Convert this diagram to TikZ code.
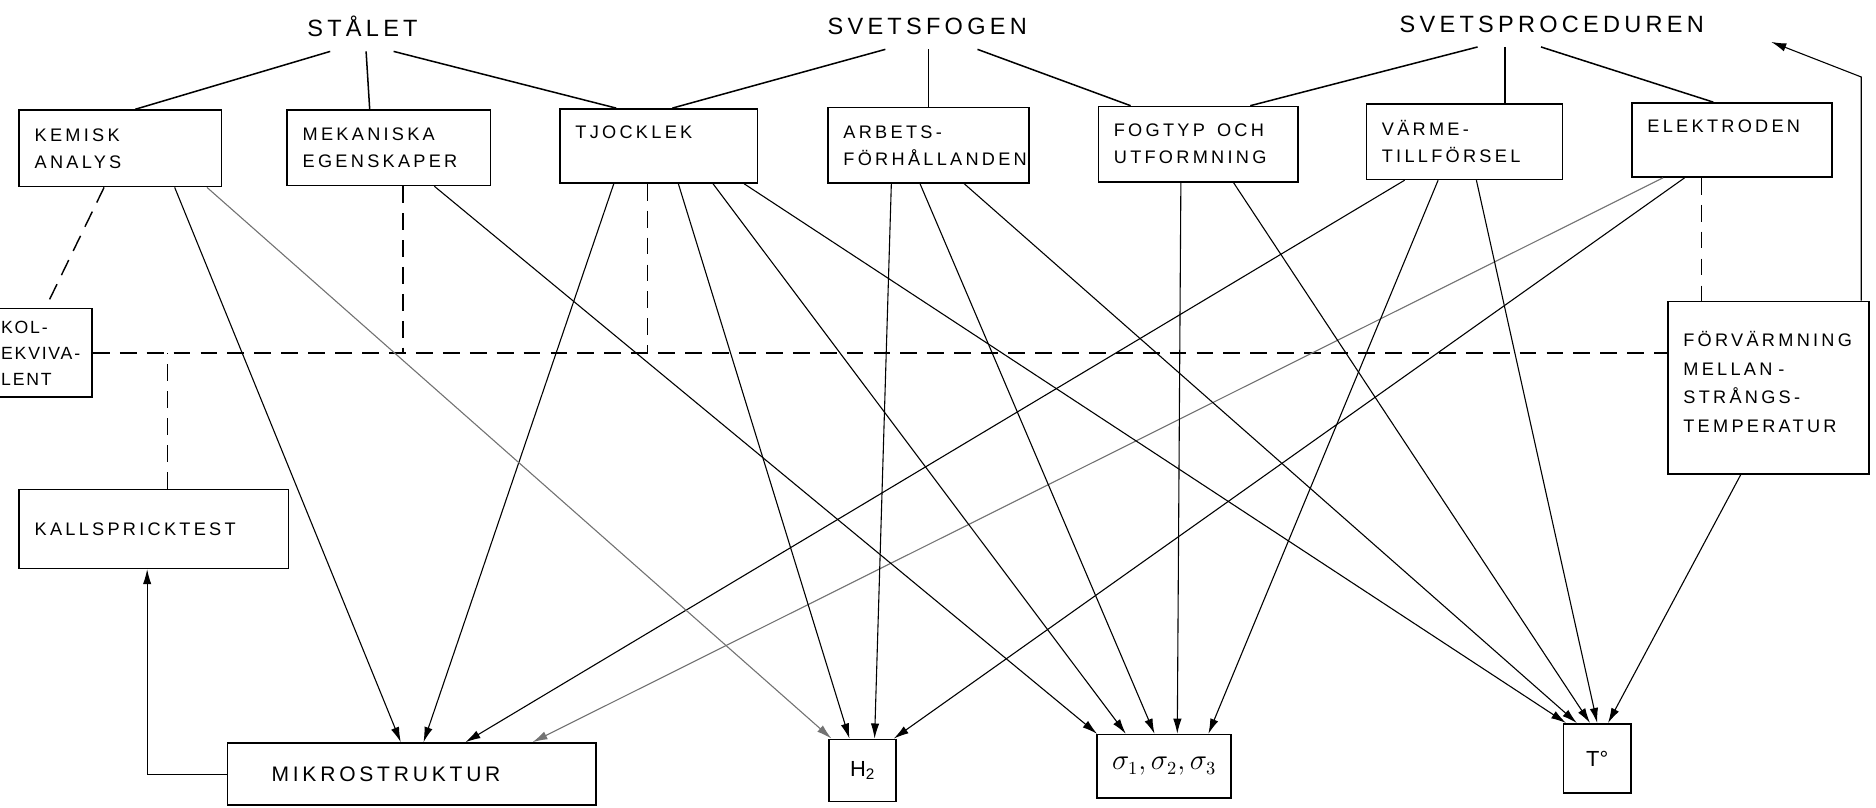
\documentclass[tikz,border=0pt]{standalone}
\usepackage{fontspec}
\setmainfont{Liberation Sans}[LetterSpace=18]
\usetikzlibrary{calc,arrows.meta}

\tikzset{
  box/.style={draw, line width=0.9pt, align=left, inner xsep=0.325cm, inner ysep=0pt,
    font=\fontsize{10.8}{16}\selectfont},
  smallbox/.style={draw, line width=0.9pt, inner sep=0pt,
    font=\fontsize{13}{15}\selectfont\addfontfeatures{LetterSpace=0}},
  title/.style={inner sep=0.3cm, font=\fontsize{14}{16}\selectfont},
  link/.style={line width=0.9pt},
  arr/.style={line width=0.65pt, -{Latex[length=9pt,width=5pt]}},
  faint/.style={draw=black!55, fill=black!55},
  dashline/.style={line width=0.85pt, dash pattern=on 10pt off 6pt},
}

\begin{document}
\begin{tikzpicture}[x=0.025cm, y=-0.025cm]
  \useasboundingbox (0,0) rectangle (1568,675);

  % rubriker
  \node[title] (stalet) at (303,22) {STÅLET};
  \node[title] (svetsfog) at (775,22) {SVETSFOGEN};
  \node[title] (svetsproc) at (1297,20) {SVETSPROCEDUREN};

  % faktorer
  \node[box, text width=3.575cm, minimum height=1.6cm] (kemisk) at (100.5,124) {KEMISK\\ANALYS};
  \node[box, text width=3.6cm, minimum height=1.575cm] (mekan) at (325,123.5) {MEKANISKA\\EGENSKAPER};
  \node[box, text width=3.475cm, minimum height=1.55cm] (tjock) at (550.5,122) {TJOCKLEK\\\mbox{}};
  \node[box, text width=3.55cm, minimum height=1.575cm] (arbets) at (776,121.5) {ARBETS-\\FÖRHÅLLANDEN};
  \node[box, text width=3.525cm, minimum height=1.575cm] (fogtyp) at (1001.5,120.5) {FOGTYP~~OCH\\UTFORMNING};
  \node[box, text width=3.45cm, minimum height=1.575cm] (varme) at (1224,118.5) {VÄRME-\\TILLFÖRSEL};
  \node[box, text width=3.525cm, minimum height=1.55cm] (elektr) at (1447.5,117) {ELEKTRODEN\\\mbox{}};

  \node[box, text width=1.75cm, inner xsep=0.15cm, minimum height=1.85cm,
    font=\fontsize{10.5}{15.5}\selectfont\addfontfeatures{LetterSpace=10}] (kol) at (36,295) {KOL-\\EKVIVA-\\LENT};
  \node[box, text width=3.55cm, minimum height=3.6cm, font=\fontsize{10.8}{17}\selectfont] (forv) at (1478,324)
    {FÖRVÄRMNING\\MELLAN -\\STRÅNGS-\\TEMPERATUR\\[-10pt]\mbox{}};
  \node[box, text width=4.975cm, minimum height=1.65cm] (kall) at (128.5,442) {KALLSPRICKTEST};

  % resultat
  \node[box, text width=5.85cm, inner xsep=0.925cm, minimum height=1.3cm,
    font=\fontsize{12.5}{14}\selectfont] (mikro) at (344,647) {MIKROSTRUKTUR};
  \node[smallbox, minimum width=1.4cm, minimum height=1.3cm] (vate) at (721,644) {H\textsubscript{2}};
  \node[smallbox, minimum width=2.8cm, minimum height=1.325cm,
    font=\fontsize{16}{18}\selectfont] (sigma) at (973,640.5) {$\sigma_1,\sigma_2,\sigma_3$};
  \node[smallbox, minimum width=1.4cm, minimum height=1.45cm] (temp) at (1335,634) {T°};

  % rubriklinjer
  \draw[link] ($(stalet.south)+(-27,0)$) -- ($(kemisk.north)+(12.5,0)$);
  \draw[link] ($(stalet.south)+(3,0)$) -- ($(mekan.north)+(-16,0)$);
  \draw[link] ($(stalet.south)+(26,0)$) -- ($(tjock.north)+(-35.5,0)$);
  \draw[link] ($(svetsfog.south)+(-35,0)$) -- ($(tjock.north)+(11.5,0)$);
  \draw[link] ($(svetsfog.south)+(1,0)$) -- ($(arbets.north)+(0,0)$);
  \draw[link] ($(svetsfog.south)+(42,0)$) -- ($(fogtyp.north)+(-56.5,0)$);
  \draw[link] ($(svetsproc.south)+(-62,0)$) -- ($(fogtyp.north)+(43.5,0)$);
  \draw[link] ($(svetsproc.south)+(-39,0)$) -- ($(varme.north)+(34,0)$);
  \draw[link] ($(svetsproc.south)+(-9,0)$) -- ($(elektr.north)+(-15.5,0)$);

  % aterkoppling
  \coordinate (fbtip) at ($(svetsproc.east)+(44,15)$);
  \draw[arr] ($(forv.north east)+(-7,0)$) -- ++(0,-187) -- (fbtip);

  % streckade samband
  \draw[dashline] ($(kemisk.south)+(-13.5,0)$) -- ($(kol.north)+(2,0)$);
  \draw[dashline] (kol.east) -- (kol.east -| forv.west);
  \draw[dashline] ($(mekan.south)+(12,0)$) -- ($(mekan.south |- kol.east)+(12,0)$);
  \draw[dashline] ($(tjock.south)+(-9.5,0)$) -- ($(tjock.south |- kol.east)+(-9.5,0)$);
  \draw[dashline] ($(kall.north)+(11.5,0)$) -- ($(kall.north |- kol.east)+(11.5,0)$);
  \draw[dashline] ($(elektr.south)+(-25.5,0)$) -- ($(forv.north)+(-56,0)$);

  \draw[arr] (mikro.west) -| ($(kall.south)+(-5.5,0)$);

  % pilar till mikrostruktur
  \draw[arr] ($(kemisk.south)+(45.5,0)$) -- ($(mikro.north)+(-9,0)$);
  \draw[arr] ($(tjock.south)+(-37.5,0)$) -- ($(mikro.north)+(10,0)$);
  \draw[arr] ($(varme.south)+(-50,0)$) -- ($(mikro.north)+(45,0)$);
  \draw[arr, faint] ($(elektr.south)+(-57.5,0)$) -- ($(mikro.north)+(101,0)$);

  % pilar till H2
  \draw[arr, faint] ($(kemisk.south)+(72.5,0)$) -- ($(vate.north)+(-26,0)$);
  \draw[arr] ($(tjock.south)+(16.5,0)$) -- ($(vate.north)+(-11,0)$);
  \draw[arr] ($(arbets.south)+(-31,0)$) -- ($(vate.north)+(10,0)$);
  \draw[arr] ($(elektr.south)+(-39.5,0)$) -- ($(vate.north)+(26,0)$);

  % pilar till sigma
  \draw[arr] ($(mekan.south)+(38,0)$) -- ($(sigma.north)+(-56,0)$);
  \draw[arr] ($(tjock.south)+(45.5,0)$) -- ($(sigma.north)+(-32,0)$);
  \draw[arr] ($(arbets.south)+(-7,0)$) -- ($(sigma.north)+(-8,0)$);
  \draw[arr] ($(fogtyp.south)+(-14.5,0)$) -- ($(sigma.north)+(11,0)$);
  \draw[arr] ($(varme.south)+(-22,0)$) -- ($(sigma.north)+(37,0)$);

  % pilar till temperatur
  \draw[arr] ($(tjock.south)+(71.5,0)$) -- ($(temp.north)+(-26,0)$);
  \draw[arr] ($(arbets.south)+(30,0)$) -- ($(temp.north)+(-17,0)$);
  \draw[arr] ($(fogtyp.south)+(29.5,0)$) -- ($(temp.north)+(-6,0)$);
  \draw[arr] ($(varme.south)+(10,0)$) -- ($(temp.north)+(0,0)$);
  \draw[arr] ($(forv.south)+(-23,0)$) -- ($(temp.north)+(9,0)$);
\end{tikzpicture}
\end{document}
